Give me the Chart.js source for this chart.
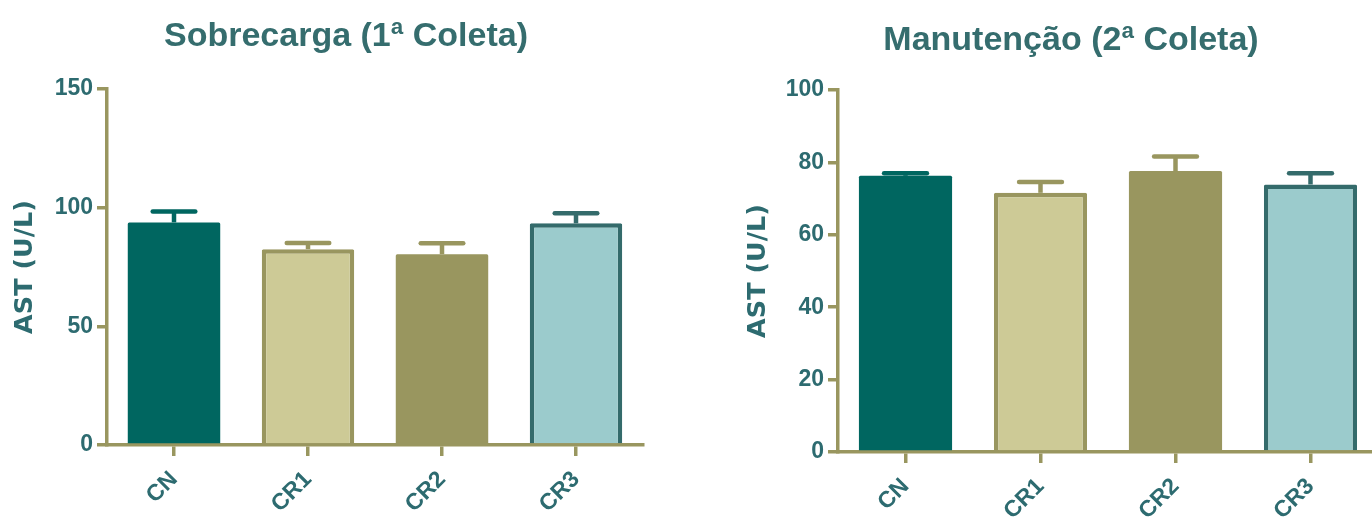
<!DOCTYPE html>
<html>
<head>
<meta charset="utf-8">
<script src="https://cdn.jsdelivr.net/npm/chart.js@4.4.1/dist/chart.umd.min.js"></script>
<style>
  html, body { margin: 0; padding: 0; background: #ffffff; overflow: hidden; width: 1372px; height: 520px; }
  canvas { position: absolute; top: 0; }
  #overload { left: 0; }
  #maintenance { left: 730px; }
</style>
</head>
<body>
<canvas id="overload" width="647" height="520"></canvas>
<canvas id="maintenance" width="652" height="520"></canvas>
<script>
// Groups and AST values (mean and SEM, U/L)
const groups = ['CN', 'CR1', 'CR2', 'CR3'];
const overloadMean = [93.8, 82.5, 80.4, 93.4];
const overloadSem = [4.6, 2.6, 4.6, 4.2];
const maintenanceMean = [76.3, 71.6, 77.6, 73.9];
const maintenanceSem = [0.7, 3.0, 4.0, 3.1];
const overloadTicks = [0, 50, 100, 150];
const maintenanceTicks = [0, 20, 40, 60, 80, 100];
const overloadTitle = 'Sobrecarga (1ª Coleta)';
const maintenanceTitle = 'Manutenção (2ª Coleta)';
const yTitle = 'AST (U/L)';

const FONT = '"Liberation Sans", Arial, Helvetica, sans-serif';
const AXIS = '#99965f';
const TEXT = '#2d6b70';
const TITLE = '#356d6e';
const fills = ['#006660', '#cdca96', '#99965f', '#9bcbcc'];
const edges = ['#006660', '#99965f', '#99965f', '#346b6b'];

// Upward SEM whiskers with a cap, drawn from the y scale
const errorBars = {
  id: 'errorBars',
  afterDatasetsDraw(chart, args, opts) {
    const ctx = chart.ctx;
    const y = chart.scales.y;
    const meta = chart.getDatasetMeta(0);
    const data = chart.data.datasets[0].data;
    ctx.save();
    meta.data.forEach((bar, i) => {
      const top = y.getPixelForValue(data[i] + opts.sem[i]);
      const half = bar.width * opts.capRatio / 2;
      ctx.strokeStyle = opts.colors[i];
      ctx.lineWidth = opts.width;
      ctx.lineCap = 'butt';
      ctx.beginPath();
      ctx.moveTo(bar.x, bar.y);
      ctx.lineTo(bar.x, top);
      ctx.stroke();
      ctx.lineCap = 'round';
      ctx.beginPath();
      ctx.moveTo(bar.x - half, top);
      ctx.lineTo(bar.x + half, top);
      ctx.stroke();
    });
    ctx.restore();
  }
};

// Panel heading
const panelTitle = {
  id: 'panelTitle',
  afterDraw(chart, args, opts) {
    const ctx = chart.ctx;
    ctx.save();
    ctx.font = 'bold ' + opts.size + 'px ' + FONT;
    ctx.fillStyle = TITLE;
    ctx.textAlign = 'center';
    ctx.textBaseline = 'alphabetic';
    ctx.fillText(opts.text, opts.x, opts.baseline);
    ctx.restore();
  }
};

function makeChart(id, means, sems, ticks, title, geo) {
  new Chart(document.getElementById(id), {
    type: 'bar',
    data: {
      labels: groups,
      datasets: [{
        data: means,
        backgroundColor: fills,
        borderColor: edges,
        borderWidth: [0, 4.5, 0, 4.5],
        borderSkipped: 'start',
        borderRadius: 1.5,
        categoryPercentage: 1,
        barPercentage: 0.69
      }]
    },
    options: {
      responsive: false,
      animation: false,
      events: [],
      layout: { padding: { top: geo.padTop, right: 4, left: 0, bottom: 0 } },
      plugins: {
        legend: { display: false },
        tooltip: { enabled: false },
        errorBars: { sem: sems, colors: edges, width: 4.5, capRatio: 0.46 },
        panelTitle: { text: title, x: geo.titleX, baseline: geo.titleBaseline, size: 34 }
      },
      scales: {
        x: {
          z: 1,
          offset: true,
          border: { display: true, color: AXIS, width: 3.5 },
          grid: { offset: false, drawOnChartArea: false, drawTicks: true, tickLength: 11, color: AXIS, lineWidth: 3.5 },
          ticks: {
            color: TEXT,
            font: { family: FONT, size: 23, weight: 'bold' },
            maxRotation: 45, minRotation: 45,
            padding: 10
          },
          afterFit(s) { s.height = geo.xHeight; }
        },
        y: {
          min: ticks[0],
          max: ticks[ticks.length - 1],
          afterBuildTicks(s) { s.ticks = ticks.map(v => ({ value: v })); },
          border: { display: true, color: AXIS, width: 3.5 },
          grid: { drawOnChartArea: false, drawTicks: true, tickLength: 10, color: AXIS, lineWidth: 3.5 },
          ticks: {
            color: TEXT,
            font: { family: FONT, size: 23, weight: 'bold' },
            padding: 4
          },
          title: {
            display: true,
            text: yTitle,
            color: TEXT,
            font: { family: '"DejaVu Sans", ' + FONT, size: 25.5, weight: 'bold' },
            padding: { top: geo.yTitlePad, bottom: 0 }
          },
          afterFit(s) { s.width = geo.yWidth; }
        }
      }
    },
    plugins: [errorBars, panelTitle]
  });
}

makeChart('overload', overloadMean, overloadSem, overloadTicks, overloadTitle,
  { yWidth: 107, xHeight: 75, padTop: 89, yTitlePad: 9.7, titleX: 346, titleBaseline: 46 });
makeChart('maintenance', maintenanceMean, maintenanceSem, maintenanceTicks, maintenanceTitle,
  { yWidth: 108, xHeight: 68, padTop: 90, yTitlePad: 12.7, titleX: 341, titleBaseline: 50 });
</script>
</body>
</html>
